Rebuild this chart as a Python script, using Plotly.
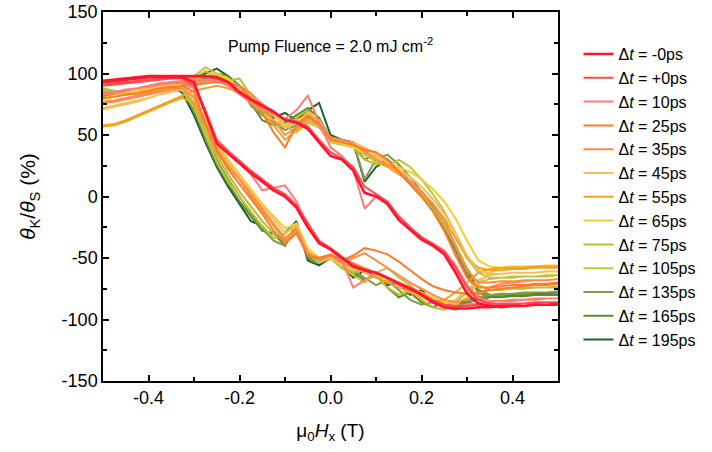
import plotly.graph_objects as go

# Field grid (T)
field = [round(-0.5 + 0.025 * i, 3) for i in range(41)]

delays = ["-0ps", "+0ps", "10ps", "25ps", "35ps", "45ps", "55ps", "65ps",
          "75ps", "105ps", "135ps", "165ps", "195ps"]
colors = ["#FF1432", "#FF4B4B", "#FF7A7A", "#FF7A2E", "#FF8A4A", "#F5BE5A", "#F2A322",
          "#F2CF2E", "#BDBD2E", "#C4C43C", "#7E9D4A", "#5F8A2A", "#1F5F2F"]

# upper branch (field sweeping up) values, %
up_m0 = [94,95,96,97,98,98,98,98,98,98,97,93,85,79,74,69,62,60,55,44,33,30,21,3,0,-6,-19,-27,-35,-40,-47,-62,-79,-87,-89,-90,-89,-89,-88,-88,-87]
up_p0 = [91,92,93,94,95,96,96,97,97,97,96,92,84,78,73,68,63,61,57,46,36,31,24,8,2,-4,-16,-25,-33,-39,-45,-58,-74,-84,-87,-88,-88,-87,-87,-86,-86]
up_10 = [84,85,87,88,90,92,93,94,95,95,94,90,83,77,72,67,63,70,82,60,40,33,22,-10,0,-5,-17,-26,-33,-38,-44,-56,-72,-82,-85,-85,-84,-84,-83,-83,-83]
up_25 = [80,81,83,84,86,88,89,90,91,92,93,92,90,80,68,52,40,58,66,58,46,44,42,38,36,30,20,10,0,-12,-28,-48,-66,-74,-74,-73,-72,-72,-71,-71,-70]
up_35 = [77,78,80,82,84,86,88,90,92,94,95,93,90,84,74,62,50,56,64,60,48,46,43,36,30,26,20,12,4,-6,-20,-40,-60,-70,-70,-69,-69,-68,-68,-68,-67]
up_45 = [72,74,76,78,80,83,86,88,90,92,94,92,88,82,76,66,56,60,68,62,47,45,44,40,34,28,22,16,8,-2,-14,-30,-48,-60,-63,-63,-62,-62,-62,-61,-61]
up_55 = [58,59,62,66,70,74,78,82,86,88,90,88,84,76,68,58,46,54,62,58,46,44,42,38,30,24,18,12,4,-6,-18,-34,-50,-58,-60,-60,-59,-59,-58,-58,-58]
up_65 = [80,82,84,86,88,90,92,94,96,98,100,96,88,78,72,66,58,62,66,58,45,43,40,36,32,28,24,20,14,6,-4,-18,-36,-52,-57,-58,-58,-57,-57,-57,-56]
up_75 = [86,85,84,84,85,87,89,92,96,102,98,94,96,82,70,62,56,64,70,60,46,44,40,30,26,28,22,12,2,-10,-24,-40,-58,-72,-76,-76,-75,-75,-74,-74,-74]
up_105 = [88,86,84,83,84,86,88,92,98,105,100,94,88,80,74,68,58,52,60,56,44,42,40,34,28,24,30,24,14,2,-12,-30,-50,-62,-66,-66,-66,-65,-65,-65,-64]
up_135 = [82,83,84,86,87,88,90,91,92,94,98,96,90,74,66,60,54,58,66,62,48,46,44,14,30,34,26,16,4,-8,-24,-42,-62,-76,-80,-80,-79,-79,-78,-78,-78]
up_165 = [85,84,83,84,86,88,90,92,94,96,100,98,88,76,62,58,60,66,72,64,47,45,42,30,34,28,20,10,0,-12,-26,-44,-64,-78,-82,-82,-81,-81,-80,-80,-80]
up_195 = [86,85,84,85,87,89,91,93,96,100,104,98,90,80,70,64,68,62,70,76,50,46,44,12,24,30,22,12,2,-10,-24,-40,-60,-76,-80,-80,-80,-79,-79,-79,-78]

# lower branch (field sweeping down) values, %
dn_m0 = [93,94,95,96,97,97,97,97,93,68,43,35,27,19,12,5,0,-9,-25,-38,-43,-50,-57,-60,-62,-66,-71,-75,-80,-86,-90,-91,-91,-90,-90,-89,-89,-89,-88,-88,-88]
dn_p0 = [90,91,92,93,94,95,96,96,90,70,46,37,29,21,14,7,2,-7,-22,-36,-42,-49,-55,-59,-62,-66,-70,-74,-79,-84,-88,-89,-89,-88,-88,-87,-87,-87,-86,-86,-86]
dn_10 = [83,84,86,88,89,91,92,93,88,68,44,35,27,18,5,7,9,-4,-24,-38,-43,-52,-74,-68,-62,-67,-72,-76,-80,-85,-88,-89,-88,-87,-86,-85,-85,-84,-84,-83,-83]
dn_25 = [80,81,83,84,86,88,89,90,85,60,38,22,10,-2,-14,-28,-38,-30,-48,-50,-47,-52,-48,-42,-44,-47,-53,-60,-67,-73,-76,-78,-79,-78,-76,-75,-74,-73,-72,-72,-71]
dn_35 = [76,77,79,81,83,85,87,88,80,58,36,24,14,2,-10,-22,-34,-26,-46,-52,-48,-54,-50,-46,-52,-58,-64,-70,-75,-80,-84,-86,-84,-80,-74,-71,-70,-69,-68,-68,-67]
dn_45 = [71,73,75,77,80,83,85,87,82,62,42,28,16,4,-8,-18,-30,-24,-44,-52,-50,-56,-60,-58,-62,-66,-70,-76,-82,-86,-88,-84,-76,-68,-64,-63,-62,-62,-62,-61,-61]
dn_55 = [57,58,61,65,69,73,77,80,76,58,40,26,14,0,-12,-24,-36,-28,-46,-50,-48,-54,-58,-62,-66,-70,-74,-78,-82,-86,-84,-78,-70,-62,-59,-58,-58,-58,-57,-57,-57]
dn_65 = [79,81,83,85,87,89,91,90,80,60,44,30,18,6,-6,-16,-26,-22,-42,-50,-50,-56,-54,-58,-64,-68,-70,-74,-78,-82,-86,-88,-82,-70,-62,-58,-57,-57,-57,-56,-56]
dn_75 = [85,84,84,84,85,87,89,88,76,54,34,18,4,-8,-20,-30,-36,-26,-48,-52,-48,-56,-62,-58,-64,-74,-80,-76,-84,-90,-92,-88,-82,-78,-76,-75,-75,-74,-74,-74,-73]
dn_105 = [87,86,84,83,84,86,88,86,72,50,28,12,0,-12,-24,-34,-30,-22,-46,-54,-50,-58,-64,-70,-62,-58,-66,-72,-80,-86,-90,-86,-78,-70,-67,-66,-65,-65,-65,-64,-64]
dn_135 = [81,82,83,85,86,87,89,88,74,50,30,14,0,-14,-26,-36,-40,-24,-48,-54,-50,-56,-60,-66,-72,-68,-76,-84,-88,-86,-90,-92,-88,-82,-80,-79,-79,-78,-78,-78,-77]
dn_165 = [84,84,83,84,86,88,89,86,70,46,26,10,-4,-16,-28,-30,-40,-22,-50,-54,-50,-58,-62,-68,-64,-74,-82,-78,-86,-90,-86,-90,-86,-84,-82,-81,-81,-80,-80,-80,-79]
dn_195 = [85,85,84,85,87,89,90,84,66,44,24,8,-6,-20,-24,-34,-30,-20,-52,-56,-50,-56,-66,-60,-64,-72,-70,-80,-76,-86,-90,-88,-84,-82,-81,-80,-80,-80,-79,-79,-79]

ups = [up_m0, up_p0, up_10, up_25, up_35, up_45, up_55, up_65, up_75, up_105, up_135, up_165, up_195]
dns = [dn_m0, dn_p0, dn_10, dn_25, dn_35, dn_45, dn_55, dn_65, dn_75, dn_105, dn_135, dn_165, dn_195]

xticks = [-0.4, -0.2, 0.0, 0.2, 0.4]
xticktext = ["-0.4", "-0.2", "0.0", "0.2", "0.4"]
yticks = [-150, -100, -50, 0, 50, 100, 150]
yticktext = ["-150", "-100", "-50", "0", "50", "100", "150"]

FONT = "Liberation Sans, Arial, sans-serif"

fig = go.Figure()
for i in reversed(range(len(delays))):
    xs = field + field[::-1]
    ys = ups[i] + dns[i][::-1]
    fig.add_trace(go.Scatter(
        x=xs, y=ys, mode="lines",
        name="Δ<i>t</i> = " + delays[i],
        line=dict(color=colors[i], width=2.6 if i == 0 else 2),
        legendrank=i + 1,
    ))

axis_common = dict(
    showline=True, linecolor="black", linewidth=1.5, mirror="ticks",
    ticks="inside", ticklen=6, tickwidth=1.5, tickcolor="black",
    showgrid=False, zeroline=False, automargin=False,
    tickfont=dict(family=FONT, size=18, color="black"),
)

fig.update_xaxes(
    range=[-0.5, 0.5], tickmode="array", tickvals=xticks, ticktext=xticktext,
    minor=dict(dtick=0.1, ticks="inside", ticklen=4, tickwidth=1.5, tickcolor="black", showgrid=False),
    title=dict(text="μ<sub>0</sub><i>H</i><sub>x</sub> (T)", font=dict(family=FONT, size=19, color="black"), standoff=16),
    **axis_common,
)
fig.update_yaxes(
    range=[-150, 150], tickmode="array", tickvals=yticks, ticktext=yticktext,
    minor=dict(dtick=25, ticks="inside", ticklen=4, tickwidth=1.5, tickcolor="black", showgrid=False),
    title=dict(text="<i>θ</i><sub>K</sub>/<i>θ</i><sub>S</sub> (%)", font=dict(family=FONT, size=21, color="black"), standoff=20),
    **axis_common,
)

fig.add_annotation(
    x=0.0, y=123, xref="x", yref="y", showarrow=False,
    text="Pump Fluence = 2.0 mJ cm<sup>-2</sup>",
    font=dict(family=FONT, size=16, color="black"),
)

fig.update_layout(
    width=712, height=452,
    margin=dict(l=103, r=151, t=12, b=71),
    paper_bgcolor="white", plot_bgcolor="white",
    font=dict(family=FONT, color="black"),
    legend=dict(x=1.045, y=0.932, xanchor="left", yanchor="top",
                font=dict(family=FONT, size=16, color="black"),
                bgcolor="rgba(0,0,0,0)", borderwidth=0, traceorder="normal"),
    showlegend=True,
)

fig.write_html("out.html")
